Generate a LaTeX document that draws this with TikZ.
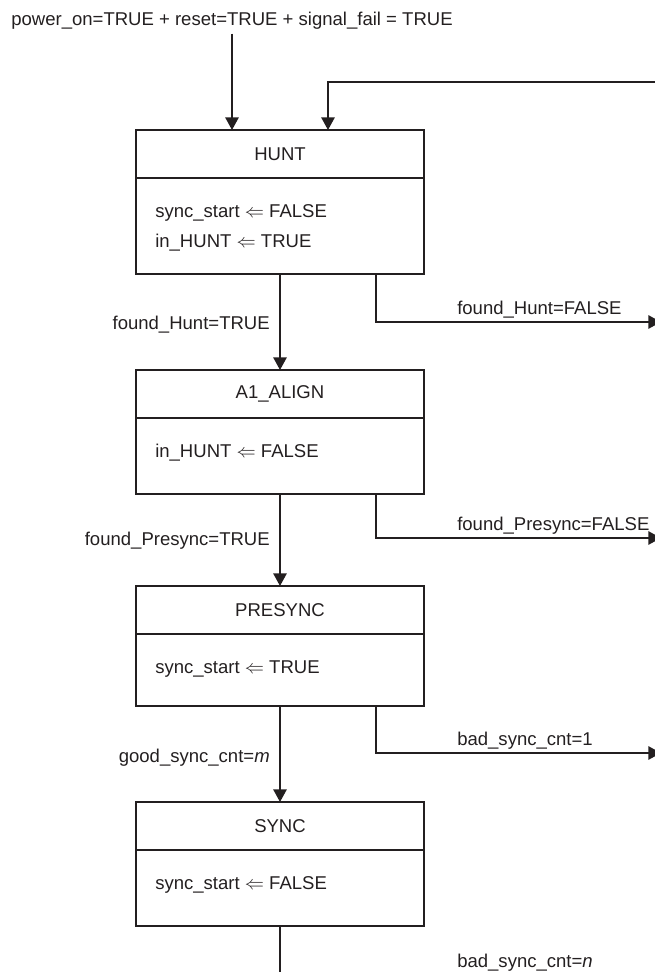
\documentclass[tikz,border=0pt]{standalone}
\usepackage{fontspec}
\setmainfont{Liberation Sans}
\usetikzlibrary{arrows.meta}
\definecolor{ink}{RGB}{35,31,32}

\begin{document}
\begin{tikzpicture}[x=0.75pt,y=0.75pt,yscale=-1,xscale=1,
  every node/.style={font=\fontsize{13.9}{16}\selectfont, text=ink},
  hd/.style={draw=ink, line width=1.4pt, minimum width=216pt, minimum height=36pt, inner sep=0pt, outer sep=0pt},
  bd/.style={draw=ink, line width=1.4pt, minimum width=216pt, anchor=north, inner sep=0pt, outer sep=0pt},
  tx/.style={anchor=base west, inner sep=0pt},
  lbl/.style={inner sep=0pt},
  wire/.style={draw=ink, line width=1.4pt},
  arr/.style={wire, -{Triangle[length=9.5pt,width=10pt]}}
]
\useasboundingbox (0,0) rectangle (655,972);

% Text Node
\node [anchor=base] (title) at (232,25) {power\_on=TRUE + reset=TRUE + signal\_fail = TRUE};

%Shape: Rectangle (HUNT)
\node [hd] (hunt) at (280,154) {HUNT};
\node [bd, minimum height=72pt] (huntb) at (hunt.south) {};
\node [tx] (hunt1) at (155,217) {sync\_start $\Leftarrow$ FALSE};
\node [tx] (hunt2) at (155,247) {in\_HUNT $\Leftarrow$ TRUE};

%Shape: Rectangle (A1_ALIGN)
\node [hd] (align) at (280,394) {A1\_ALIGN};
\node [bd, minimum height=57pt] (alignb) at (align.south) {};
\node [tx] (align1) at (155,457) {in\_HUNT $\Leftarrow$ FALSE};

%Shape: Rectangle (PRESYNC)
\node [hd] (pre) at (280,610) {PRESYNC};
\node [bd, minimum height=54pt] (preb) at (pre.south) {};
\node [tx] (pre1) at (155,673) {sync\_start $\Leftarrow$ TRUE};

%Shape: Rectangle (SYNC)
\node [hd] (sync) at (280,826) {SYNC};
\node [bd, minimum height=57pt] (syncb) at (sync.south) {};
\node [tx] (sync1) at (155,889) {sync\_start $\Leftarrow$ FALSE};

% loose ends at the right and bottom border
\coordinate (loopin) at (661,82);
\coordinate (huntout) at (661,322);
\coordinate (alignout) at (661,538);
\coordinate (preout) at (661,753);
\coordinate (syncout) at (280,980);

%Straight Lines
\draw [arr] (title.south) -- (title.south |- hunt.north);
\draw [arr] (loopin) -| ([xshift=36pt]hunt.north);
\draw [arr] (huntb.south) -- (align.north);
\draw [arr] ([xshift=72pt]huntb.south) |- (huntout);
\draw [arr] (alignb.south) -- (pre.north);
\draw [arr] ([xshift=72pt]alignb.south) |- (alignout);
\draw [arr] (preb.south) -- (sync.north);
\draw [arr] ([xshift=72pt]preb.south) |- (preout);
\draw [wire] (syncb.south) -- (syncout);

% Text Node
\node [lbl, anchor=base east] (huntyes) at (270,329) {found\_Hunt=TRUE};
\node [lbl, anchor=base west] (huntno) at (457,314) {found\_Hunt=FALSE};
\node [lbl, anchor=base east] (alignyes) at (270,545) {found\_Presync=TRUE};
\node [lbl, anchor=base west] (alignno) at (457,530) {found\_Presync=FALSE};
\node [lbl, anchor=base east] (preyes) at (270,762) {good\_sync\_cnt=\textit{m}};
\node [lbl, anchor=base west] (preno) at (457,745) {bad\_sync\_cnt=1};
\node [lbl, anchor=base west] (syncno) at (457,967) {bad\_sync\_cnt=\textit{n}};

\end{tikzpicture}
\end{document}
